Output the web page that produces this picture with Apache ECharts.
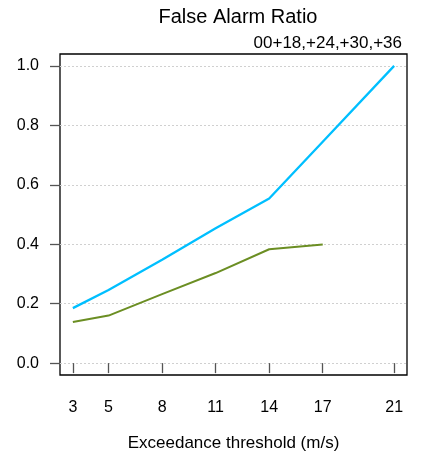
<!DOCTYPE html>
<html><head><meta charset="utf-8">
<script src="https://cdn.jsdelivr.net/npm/echarts@6/dist/echarts.min.js"></script>
<style>html,body{margin:0;padding:0;background:#fff}#c{width:423px;height:462px}</style>
</head><body><div id="c"></div>
<script>
const thresholds = [3, 5, 8, 11, 14, 17, 21];
const blueVals = [0.185, 0.246, 0.348, 0.454, 0.554, 0.745, 1.0];
const greenVals = [0.138, 0.160, 0.232, 0.303, 0.383, 0.399, null];
const yTicks = [0.0, 0.2, 0.4, 0.6, 0.8, 1.0];
const titleText = 'False Alarm Ratio';
const subtitleText = '00+18,+24,+30,+36';
const xTitle = 'Exceedance threshold (m/s)';

const font = 'Liberation Sans, Arial, sans-serif';
const chart = echarts.init(document.getElementById('c'), null, {renderer: 'canvas'});
const pair = v => thresholds.map((x, i) => [x, v[i]]).filter(p => p[1] !== null);
chart.setOption({
  animation: false,
  textStyle: {fontFamily: font},
  title: [
    {text: titleText, left: 233, top: 2, textAlign: 'center',
     textStyle: {fontSize: 20, fontWeight: 'normal', color: '#000', fontFamily: font}},
    {text: subtitleText, right: 16, top: 30,
     textStyle: {fontSize: 17, fontWeight: 'normal', color: '#000', fontFamily: font}}
  ],
  grid: {left: 60, right: 16, top: 54, bottom: 87, show: true, borderColor: '#000', borderWidth: 1.3, backgroundColor: 'transparent'},
  xAxis: {
    type: 'value', min: 2.28, max: 21.72,
    name: xTitle, nameLocation: 'middle', nameGap: 60,
    nameTextStyle: {fontSize: 17, color: '#000', fontFamily: font},
    axisLine: {show: false},
    axisTick: {show: true, length: 10, lineStyle: {color: '#555', width: 1.3},
      customValues: thresholds},
    axisLabel: {fontSize: 16, color: '#000', margin: 25, fontFamily: font,
      customValues: thresholds, formatter: v => String(v)},
    splitLine: {show: false}
  },
  yAxis: {
    type: 'value', min: -0.04, max: 1.04,
    axisLine: {show: false},
    axisTick: {show: true, length: 10, lineStyle: {color: '#555', width: 1.3}, customValues: yTicks},
    axisLabel: {fontSize: 16, color: '#000', margin: 21, fontFamily: font,
      customValues: yTicks, formatter: v => v.toFixed(1)},
    splitLine: {show: true, lineStyle: {color: '#d0d0d0', type: [2, 2], width: 1}},
    splitNumber: 5
  },
  series: [
    {type: 'line', data: pair(blueVals), showSymbol: false, symbol: 'none',
     lineStyle: {color: '#00BFFF', width: 2.3}, z: 3},
    {type: 'line', data: pair(greenVals), showSymbol: false, symbol: 'none',
     lineStyle: {color: '#6B8E23', width: 2}, z: 3}
  ]
});
</script></body></html>
